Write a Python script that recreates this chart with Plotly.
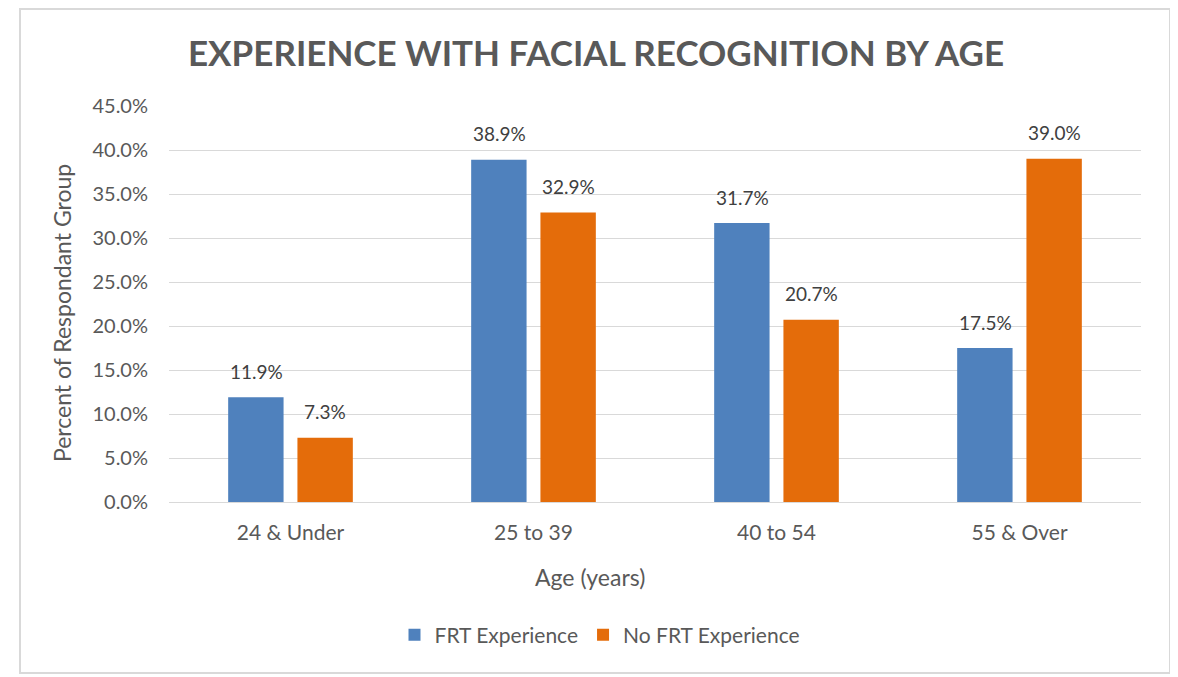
import plotly.graph_objects as go

# data
age_groups = ["24 & Under", "25 to 39", "40 to 54", "55 & Over"]
frt_experience = [11.9, 38.9, 31.7, 17.5]
no_frt_experience = [7.3, 32.9, 20.7, 39.0]
y_ticks = [0, 5, 10, 15, 20, 25, 30, 35, 40, 45]

blue = "#4F81BD"
orange = "#E46C0A"
text_grey = "#595959"
font_name = "Lato, Carlito, Calibri, sans-serif"

# the page adds an 8px body margin, so the figure is drawn 8px smaller
W, H = 1170, 669
L, R, T, B = 161, 37, 98, 175
pw, ph = W - L - R, H - T - B


def px(x):
    return (x - L) / pw


def py(y):
    return (H - B - y) / ph


fig = go.Figure()
fig.add_trace(go.Bar(x=age_groups, y=frt_experience, name="FRT Experience",
                     marker_color=blue, marker_line_width=0))
fig.add_trace(go.Bar(x=age_groups, y=no_frt_experience, name="No FRT Experience",
                     marker_color=orange, marker_line_width=0))

# value labels above bars
for vals, shift in [(frt_experience, -34.5), (no_frt_experience, 34.5)]:
    for cat, v in zip(age_groups, vals):
        fig.add_annotation(x=cat, y=v, text=f"{v:.1f}%", showarrow=False,
                           xshift=shift, yshift=26,
                           font=dict(size=19, color="#404040", family=font_name))

fig.add_annotation(text="<b>EXPERIENCE WITH FACIAL RECOGNITION BY AGE</b>",
                   xref="paper", yref="paper", x=px(588), y=py(44), showarrow=False,
                   xanchor="center", yanchor="middle",
                   font=dict(size=35, color=text_grey, family=font_name))
fig.add_annotation(text="Age (years)", xref="paper", yref="paper",
                   x=px(582), y=py(569), showarrow=False, xanchor="center", yanchor="middle",
                   font=dict(size=23, color=text_grey, family=font_name))
fig.add_annotation(text="Percent of Respondant Group", xref="paper", yref="paper",
                   x=px(54), y=py(305), showarrow=False, textangle=-90,
                   xanchor="center", yanchor="middle",
                   font=dict(size=23, color=text_grey, family=font_name))

# outer chart border
fig.add_shape(type="rect", xref="paper", yref="paper",
              x0=px(12), x1=px(1162), y0=py(665), y1=py(1),
              line=dict(color="#D9D9D9", width=2), fillcolor="rgba(0,0,0,0)", layer="below")

fig.update_layout(
    width=W, height=H,
    margin=dict(l=L, r=R, t=T, b=B),
    paper_bgcolor="white", plot_bgcolor="white",
    barmode="group", bargap=0.43, bargroupgap=0.2,
    font=dict(family=font_name, color=text_grey, size=18),
    showlegend=True,
    legend=dict(orientation="h", x=px(592), xanchor="center", y=py(627), yanchor="middle",
                font=dict(size=21, color=text_grey), itemwidth=30, traceorder="normal"),
)
fig.update_xaxes(showline=True, linecolor="#D9D9D9", linewidth=1, ticks="",
                 ticklabelstandoff=12, tickfont=dict(size=21, color=text_grey))
fig.update_yaxes(range=[0, 45], tickvals=y_ticks, ticktext=[f"{t:.1f}%" for t in y_ticks],
                 showgrid=True, gridcolor="#D9D9D9", gridwidth=1, zeroline=False,
                 ticklabelstandoff=20, tickfont=dict(size=20, color=text_grey))

fig.write_html("out.html")
